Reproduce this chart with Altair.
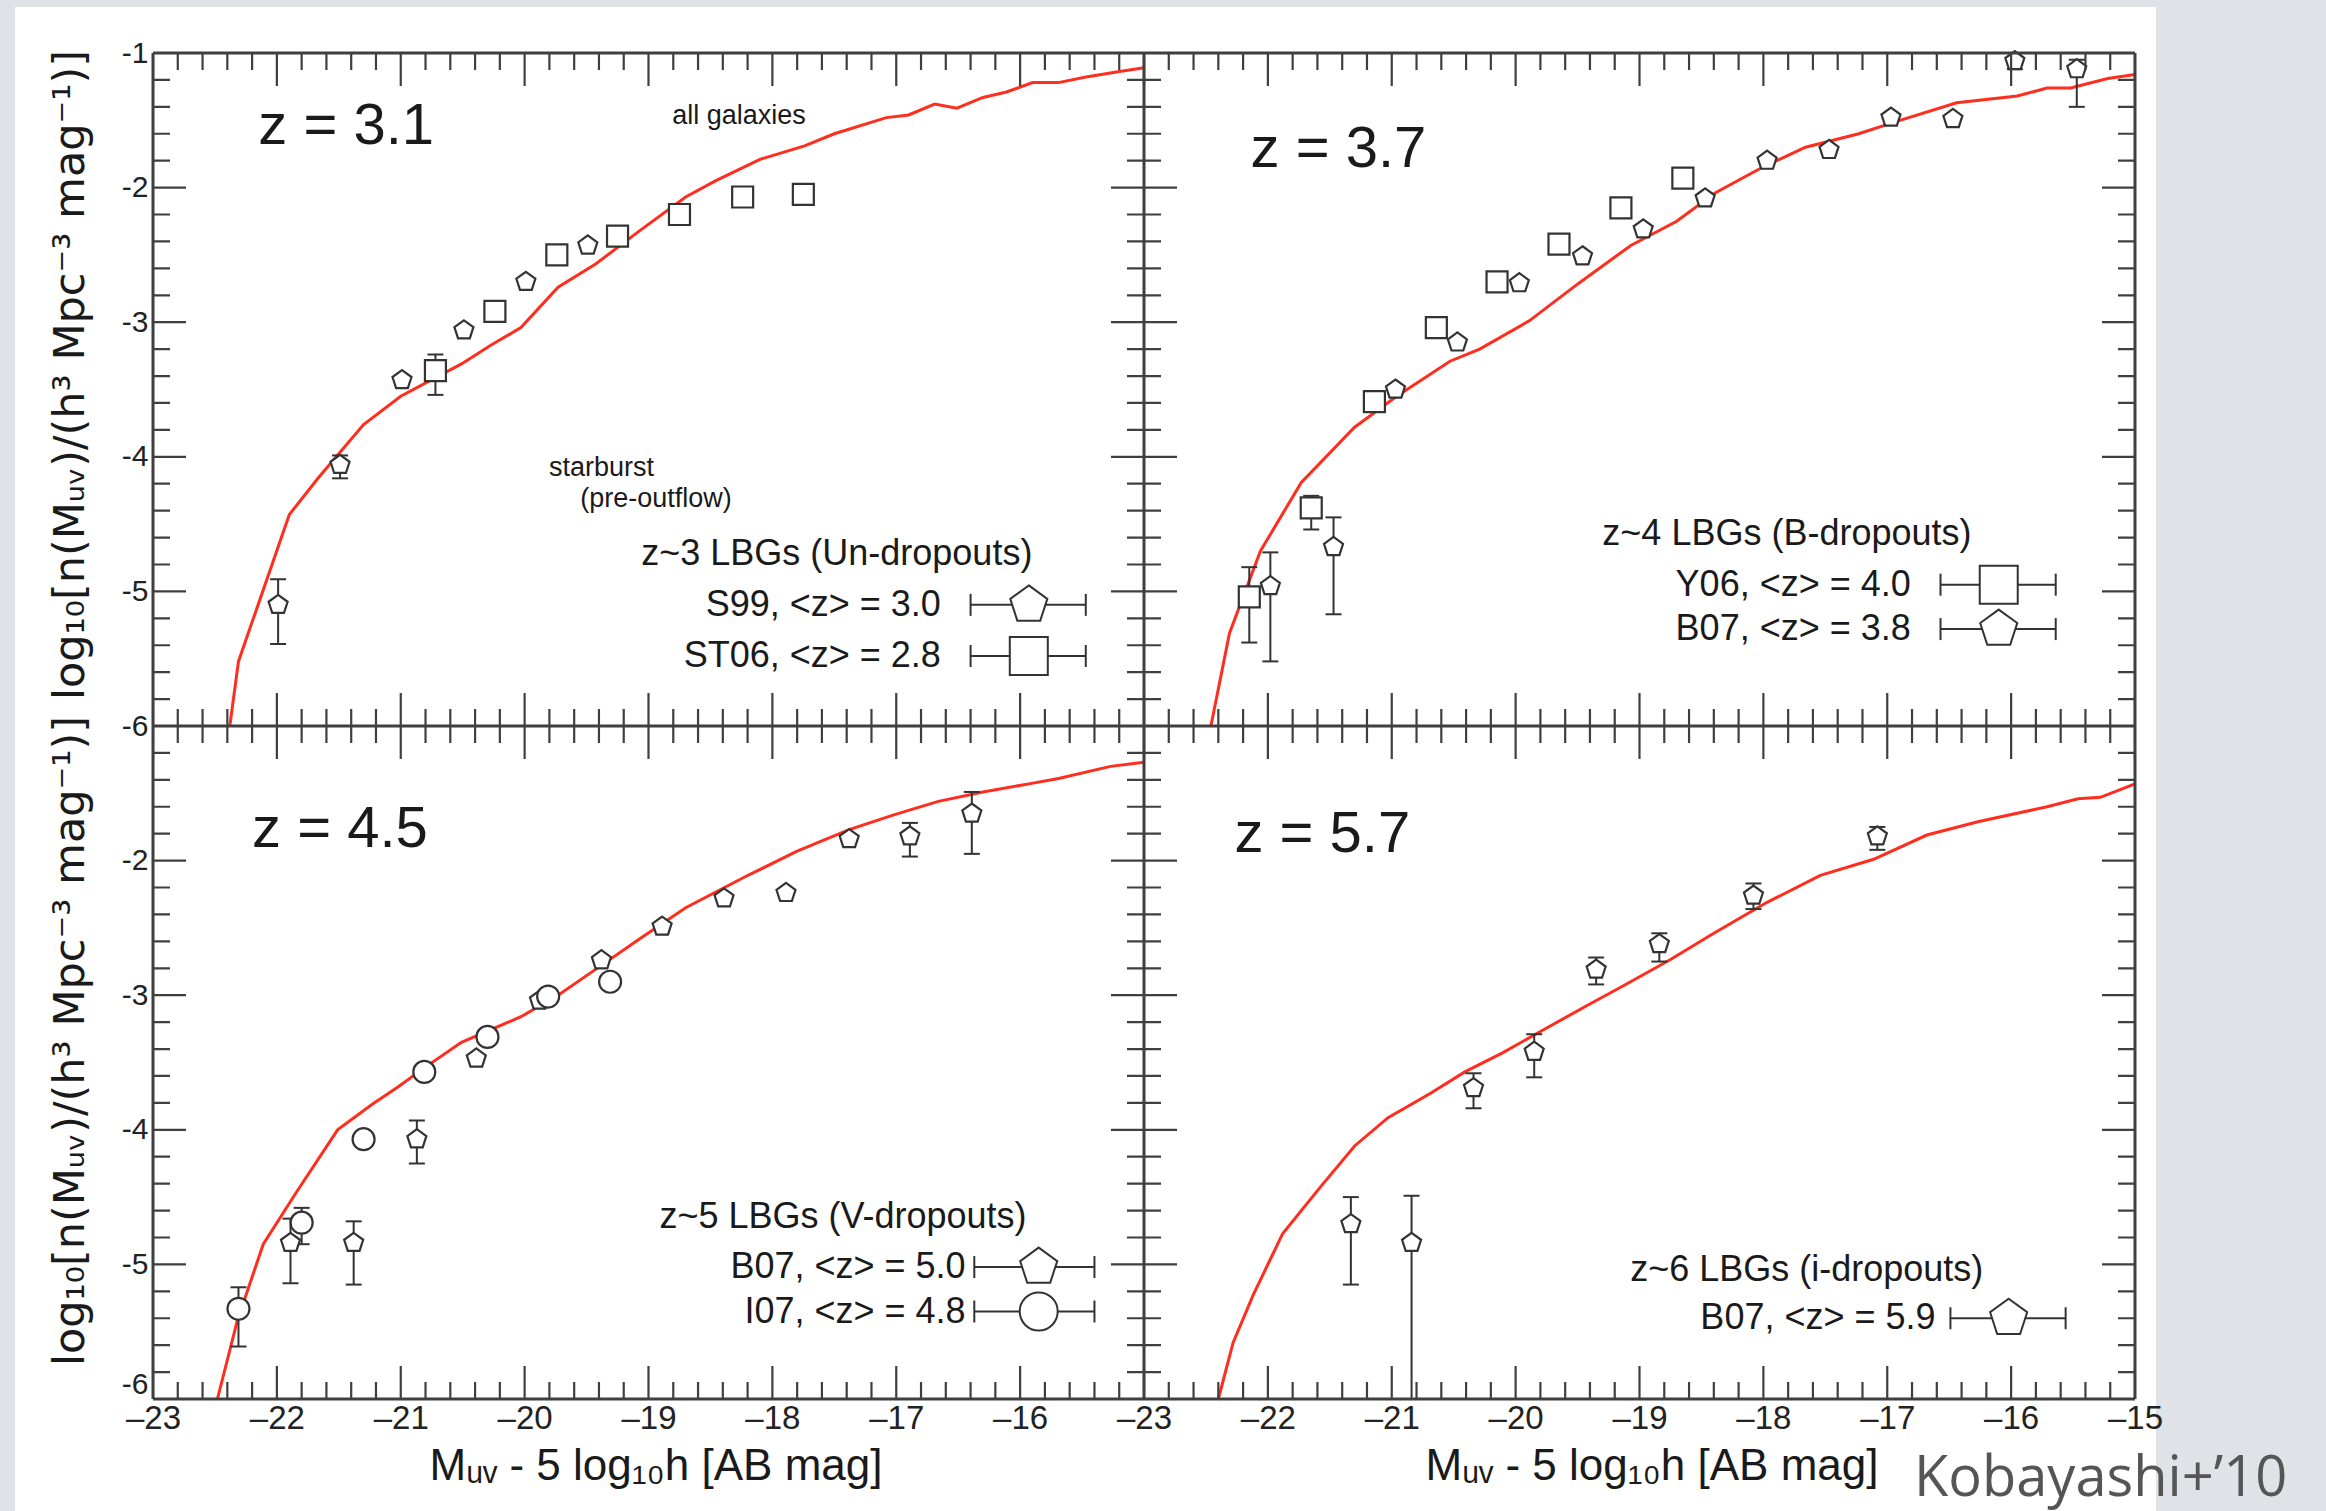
import altair as alt
import numpy as np
import pandas as pd

# ---------------- values ----------------
# z = 3.1 (top left)
mod31_mag = [-22.38, -22.31, -21.90, -21.66, -21.30, -21.00, -20.51, -20.27, -20.03,
             -19.73, -19.43, -19.07, -18.70, -18.46, -18.10, -17.74, -17.50, -17.08,
             -16.90, -16.69, -16.51, -16.30, -16.11, -15.90, -15.69, -15.48, -15.21, -15.00]
mod31_logn = [-6.00, -5.52, -4.43, -4.15, -3.76, -3.55, -3.31, -3.17, -3.04,
              -2.74, -2.57, -2.32, -2.07, -1.95, -1.79, -1.69, -1.60, -1.48,
              -1.46, -1.38, -1.41, -1.33, -1.29, -1.22, -1.22, -1.18, -1.14, -1.11]
s99_mag = [-21.99, -21.49, -20.99, -20.49, -19.99, -19.49]
s99_logn = [-5.10, -4.06, -3.43, -3.06, -2.70, -2.43]
s99_lo = [-5.39, -4.16, None, None, None, None]
s99_hi = [-4.91, -3.99, None, None, None, None]
st06_mag = [-20.72, -20.24, -19.74, -19.25, -18.75, -18.24, -17.75]
st06_logn = [-3.36, -2.92, -2.50, -2.36, -2.20, -2.07, -2.05]
st06_lo = [-3.54, None, None, None, None, None, None]
st06_hi = [-3.24, None, None, None, None, None, None]

# z = 3.7 (top right)
mod37_mag = [-22.46, -22.31, -22.06, -21.73, -21.30, -20.96, -20.53, -20.29, -19.89,
             -19.49, -19.07, -18.70, -18.39, -18.03, -17.66, -17.23, -16.93, -16.44,
             -15.95, -15.71, -15.52, -15.22, -15.00]
mod37_logn = [-6.00, -5.31, -4.70, -4.19, -3.78, -3.55, -3.29, -3.20, -2.99,
              -2.71, -2.43, -2.25, -2.04, -1.86, -1.70, -1.60, -1.51, -1.37,
              -1.32, -1.26, -1.26, -1.19, -1.16]
y06_mag = [-22.15, -21.65, -21.14, -20.64, -20.15, -19.65, -19.15, -18.65]
y06_logn = [-5.04, -4.38, -3.59, -3.04, -2.70, -2.42, -2.15, -1.93]
y06_lo = [-5.38, -4.54, None, None, None, None, None, None]
y06_hi = [-4.82, -4.29, None, None, None, None, None, None]
b07a_mag = [-21.98, -21.47, -20.97, -20.47, -19.97, -19.46, -18.97, -18.47, -17.97,
            -17.47, -16.97, -16.47, -15.97, -15.47]
b07a_logn = [-4.96, -4.67, -3.50, -3.15, -2.71, -2.51, -2.31, -2.08, -1.80,
             -1.72, -1.48, -1.49, -1.06, -1.12]
b07a_lo = [-5.52, -5.17, None, None, None, None, None, None, None, None, None, None, -1.12, -1.40]
b07a_hi = [-4.71, -4.45, None, None, None, None, None, None, None, None, None, None, -1.00, -1.05]

# z = 4.5 (bottom left)
mod45_mag = [-22.48, -22.32, -22.11, -21.84, -21.51, -21.23, -21.02, -20.81, -20.51,
             -20.03, -19.73, -19.43, -19.07, -18.70, -18.22, -17.80, -17.38, -17.02,
             -16.66, -16.30, -15.93, -15.69, -15.27, -15.00]
mod45_logn = [-6.00, -5.42, -4.85, -4.46, -4.00, -3.81, -3.68, -3.54, -3.35,
              -3.16, -3.00, -2.81, -2.58, -2.35, -2.12, -1.93, -1.77, -1.66,
              -1.56, -1.49, -1.43, -1.39, -1.30, -1.27]
b07b_mag = [-21.89, -21.38, -20.87, -20.39, -19.88, -19.38, -18.89, -18.39, -17.89,
            -17.38, -16.89, -16.39]
b07b_logn = [-4.84, -4.84, -4.07, -3.47, -3.04, -2.74, -2.49, -2.28, -2.24,
             -1.84, -1.82, -1.65]
b07b_lo = [-5.14, -5.15, -4.25, None, None, None, None, None, None, None, -1.97, -1.95]
b07b_hi = [-4.66, -4.68, -3.93, None, None, None, None, None, None, None, -1.72, -1.49]
i07_mag = [-22.31, -21.80, -21.30, -20.81, -20.30, -19.81, -19.31]
i07_logn = [-5.33, -4.69, -4.07, -3.57, -3.31, -3.01, -2.90]
i07_lo = [-5.61, -4.85, None, None, None, None, None]
i07_hi = [-5.17, -4.58, None, None, None, None, None]

# z = 5.7 (bottom right)
mod57_mag = [-22.40, -22.28, -22.12, -21.88, -21.58, -21.30, -21.03, -20.69, -20.41,
             -20.11, -19.80, -19.43, -19.13, -18.76, -18.40, -17.97, -17.54, -17.11,
             -16.68, -16.26, -15.71, -15.46, -15.28, -15.00]
mod57_logn = [-6.00, -5.58, -5.23, -4.77, -4.43, -4.12, -3.91, -3.73, -3.57,
              -3.43, -3.27, -3.08, -2.93, -2.74, -2.54, -2.31, -2.11, -1.99,
              -1.81, -1.71, -1.60, -1.54, -1.53, -1.43]
b07c_mag = [-21.33, -20.84, -20.34, -19.85, -19.35, -18.84, -18.08, -17.08]
b07c_logn = [-4.70, -4.84, -3.69, -3.42, -2.81, -2.62, -2.26, -1.82]
b07c_lo = [-5.15, -6.00, -3.84, -3.61, -2.92, -2.75, -2.36, -1.92]
b07c_hi = [-4.50, -4.49, -3.58, -3.29, -2.72, -2.54, -2.17, -1.75]

# texts
panel_titles = ["z = 3.1", "z = 3.7", "z = 4.5", "z = 5.7"]
legend_headers = ["z~3 LBGs (Un-dropouts)", "z~4 LBGs (B-dropouts)",
                  "z~5 LBGs (V-dropouts)", "z~6 LBGs (i-dropouts)"]
legend_entries = [["S99, <z> = 3.0", "ST06, <z> = 2.8"],
                  ["Y06, <z> = 4.0", "B07, <z> = 3.8"],
                  ["B07, <z> = 5.0", "I07, <z> = 4.8"],
                  ["B07, <z> = 5.9"]]
legend_shapes = [["pent", "square"], ["square", "pent"], ["pent", "circle"], ["pent"]]
notes = ["all galaxies", "starburst", "(pre-outflow)"]
y_title = "log\u2081\u2080[n(M\u1d64\u1d65)/(h\u00b3 Mpc\u207b\u00b3 mag\u207b\u00b9)]"
x_title = "M\u1d64\u1d65 - 5 log\u2081\u2080h [AB mag]"
credit = "Kobayashi+\u201910"

# ---------------- annotation placement (data coordinates of each panel) ----------------
panels = [(0, 0), (1, 0), (0, 1), (1, 1)]
title_pos = [(-22.15, -1.55), (-22.14, -1.72), (-22.20, -1.77), (-22.27, -1.81)]
header_pos = [(-17.48, -4.72), (-17.81, -4.57), (-17.43, -4.65), (-17.65, -5.04)]
entry_x = [-16.64, -16.81, -16.44, -16.61]
entry_y = [[-5.10, -5.48], [-4.95, -5.28], [-5.02, -5.35], [-5.40]]
sym_x = [(-16.40, -15.93, -15.47), (-16.57, -16.10, -15.64), (-16.37, -15.85, -15.40), (-16.49, -16.02, -15.56)]
note_pos = [(-18.27, -1.47), (-19.38, -4.08), (-18.94, -4.31)]

# ---------------- tables ----------------
model_sets = [(0, 0, mod31_mag, mod31_logn), (1, 0, mod37_mag, mod37_logn),
              (0, 1, mod45_mag, mod45_logn), (1, 1, mod57_mag, mod57_logn)]
model_rows = []
for k, (c, r, ms, ls) in enumerate(model_sets):
    for i, (m, l) in enumerate(zip(ms, ls)):
        model_rows.append(dict(panel=k, col=c, row=r, i=i, mag=m, logn=l))
model_df = pd.DataFrame(model_rows)

obs_sets = [(0, 0, "pent", s99_mag, s99_logn, s99_lo, s99_hi),
            (0, 0, "square", st06_mag, st06_logn, st06_lo, st06_hi),
            (1, 0, "square", y06_mag, y06_logn, y06_lo, y06_hi),
            (1, 0, "pent", b07a_mag, b07a_logn, b07a_lo, b07a_hi),
            (0, 1, "pent", b07b_mag, b07b_logn, b07b_lo, b07b_hi),
            (0, 1, "circle", i07_mag, i07_logn, i07_lo, i07_hi),
            (1, 1, "pent", b07c_mag, b07c_logn, b07c_lo, b07c_hi)]
obs_rows = []
for c, r, shp, ms, ls, los, his in obs_sets:
    for m, l, lo, hi in zip(ms, ls, los, his):
        obs_rows.append(dict(col=c, row=r, shape=shp, mag=m, logn=l,
                             lo=np.nan if lo is None else lo, hi=np.nan if hi is None else hi))
obs_df = pd.DataFrame(obs_rows)

leg_rows, entry_rows = [], []
for k, (c, r) in enumerate(panels):
    for j, txt in enumerate(legend_entries[k]):
        xl, xc, xr = sym_x[k]
        leg_rows.append(dict(col=c, row=r, xl=xl, xc=xc, xr=xr, logn=entry_y[k][j],
                             shape=legend_shapes[k][j]))
        entry_rows.append(dict(col=c, row=r, mag=entry_x[k], logn=entry_y[k][j], text=txt))
leg_df = pd.DataFrame(leg_rows)
entry_df = pd.DataFrame(entry_rows)
title_df = pd.DataFrame([dict(col=c, row=r, mag=p[0], logn=p[1], text=t)
                         for (c, r), p, t in zip(panels, title_pos, panel_titles)])
header_df = pd.DataFrame([dict(col=c, row=r, mag=p[0], logn=p[1], text=t)
                          for (c, r), p, t in zip(panels, header_pos, legend_headers)])
note_df = pd.DataFrame([dict(col=0, row=0, mag=p[0], logn=p[1], text=t)
                        for p, t in zip(note_pos, notes)])

# tick marks on every panel edge (stacked coordinates: right column +8 mag, bottom row -5 dex)
xv = np.round(np.arange(-23, -6.99, 0.2), 1)
yv = np.round(np.arange(-11, -0.99, 0.2), 1)
xt = pd.DataFrame([dict(v=v, e=e, major=bool(abs(v - round(v)) < 1e-6)) for v in xv for e in (-1, -6, -11)])
yt = pd.DataFrame([dict(v=v, e=e, major=bool(abs(v - round(v)) < 1e-6)) for v in yv for e in (-23, -15, -7)])
frame_df = pd.DataFrame([dict(xa=v, xb=v, ya=-11, yb=-1) for v in (-23, -15, -7)] +
                        [dict(xa=-23, xb=-7, ya=v, yb=v) for v in (-1, -6, -11)])
one = pd.DataFrame({"k": [0]})

# ---------------- styling ----------------
RED = "#ff2d1e"
INK = "#333333"
FRAME = "#3f3f3f"
FONT = "'Liberation Sans Narrow', 'Arial Narrow', 'Liberation Sans', sans-serif"
PENT = "M0,-1L0.951,-0.309L0.588,0.809L-0.588,0.809L-0.951,-0.309Z"
SHAPES = {"pent": (PENT, 400, 1520), "square": ("square", 441, 1444), "circle": ("circle", 484, 1444)}

XS = alt.Scale(domain=[-23, -7], nice=False, zero=False)
YS = alt.Scale(domain=[-11, -1], nice=False, zero=False)
XAXIS = alt.Axis(values=list(range(-23, -6)),
                 labelExpr="'\u2013' + (datum.value < -15 ? -datum.value : 8 - datum.value)",
                 ticks=False, domain=False, grid=False, title=None, labelFont=FONT,
                 labelFontSize=33, labelColor="#222222", labelPadding=3,
                 labelOverlap=False, labelFlush=False, zindex=2)
YAXIS = alt.Axis(values=list(range(-11, 0)),
                 labelExpr="'-' + (datum.value >= -6 ? -datum.value : -datum.value - 5)",
                 labelBaseline={"condition": {"test": "datum.value <= -11", "value": "bottom"},
                                "value": "middle"},
                 ticks=False, domain=False, grid=False, title=None, labelFont=FONT,
                 labelFontSize=30, labelColor="#222222", labelPadding=5,
                 labelOverlap=False, labelFlush=False, zindex=2)


def X(f):
    return alt.X(f + ":Q", scale=XS, axis=XAXIS)


def Y(f):
    return alt.Y(f + ":Q", scale=YS, axis=YAXIS)


def stacked(ch, *fields):
    calc = {}
    for f in fields:
        if f in ("mag", "xl", "xc", "xr"):
            calc[f + "_s"] = f"datum.{f} + 8 * datum.col"
        else:
            calc[f + "_s"] = f"datum.{f} - 5 * datum.row"
    return ch.transform_calculate(**calc)


layers = []
# white card behind the figure
layers.append(alt.Chart(one).mark_rect(color="white").encode(
    x=alt.value(-138), x2=alt.value(2003), y=alt.value(-46), y2=alt.value(1458)))

# model curves
layers.append(stacked(alt.Chart(model_df), "mag", "logn").mark_line(
    color=RED, strokeWidth=3).encode(x=X("mag_s"), y=Y("logn_s"),
                                     detail="panel:N", order="i:Q"))

# error bars
eb = stacked(alt.Chart(obs_df).transform_filter("isValid(datum.lo) && isFinite(datum.lo)"),
             "mag", "lo", "hi")
layers.append(eb.mark_rule(color=INK, strokeWidth=2).encode(
    x=X("mag_s"), y=Y("lo_s"), y2="hi_s:Q"))
for f in ("lo_s", "hi_s"):
    layers.append(eb.mark_tick(orient="horizontal", size=16, thickness=2, color=INK,
                               opacity=1).encode(x=X("mag_s"), y=Y(f)))

# data points
for key, (shp, sz, _) in SHAPES.items():
    layers.append(stacked(alt.Chart(obs_df).transform_filter(f"datum.shape == '{key}'"),
                          "mag", "logn").mark_point(
        shape=shp, size=sz, filled=True, fill="white", stroke=INK, strokeWidth=2.2,
        opacity=1).encode(x=X("mag_s"), y=Y("logn_s")))

# legend symbols
lg = stacked(alt.Chart(leg_df), "xl", "xc", "xr", "logn")
layers.append(lg.mark_rule(color=INK, strokeWidth=2).encode(
    x=X("xl_s"), x2="xr_s:Q", y=Y("logn_s")))
for f in ("xl_s", "xr_s"):
    layers.append(lg.mark_tick(orient="vertical", size=22, thickness=2, color=INK,
                               opacity=1).encode(x=X(f), y=Y("logn_s")))
for key, (shp, _, sz) in SHAPES.items():
    layers.append(lg.transform_filter(f"datum.shape == '{key}'").mark_point(
        shape=shp, size=sz, filled=True, fill="white", stroke=INK, strokeWidth=2,
        opacity=1).encode(x=X("xc_s"), y=Y("logn_s")))

# inward ticks on all edges
for major, ln in ((True, 66), (False, 34)):
    layers.append(alt.Chart(xt[xt.major == major]).mark_tick(
        orient="vertical", size=ln, thickness=2.2, color=FRAME, opacity=1, clip=True).encode(
        x=X("v"), y=Y("e")))
    layers.append(alt.Chart(yt[yt.major == major]).mark_tick(
        orient="horizontal", size=ln, thickness=2.2, color=FRAME, opacity=1, clip=True).encode(
        x=X("e"), y=Y("v")))

# panel frames
layers.append(alt.Chart(frame_df).mark_rule(color=FRAME, strokeWidth=3).encode(
    x=X("xa"), x2="xb:Q", y=Y("ya"), y2="yb:Q"))

# texts inside panels
layers.append(stacked(alt.Chart(title_df), "mag", "logn").mark_text(
    align="left", baseline="middle", font=FONT, fontSize=58, color="#1a1a1a").encode(
    x=X("mag_s"), y=Y("logn_s"), text="text:N"))
layers.append(stacked(alt.Chart(header_df), "mag", "logn").mark_text(
    align="center", baseline="middle", font=FONT, fontSize=36, color="#1a1a1a").encode(
    x=X("mag_s"), y=Y("logn_s"), text="text:N"))
layers.append(stacked(alt.Chart(entry_df), "mag", "logn").mark_text(
    align="right", baseline="middle", font=FONT, fontSize=36, color="#1a1a1a").encode(
    x=X("mag_s"), y=Y("logn_s"), text="text:N"))
layers.append(stacked(alt.Chart(note_df), "mag", "logn").mark_text(
    align="center", baseline="middle", font=FONT, fontSize=27, color="#1a1a1a").encode(
    x=X("mag_s"), y=Y("logn_s"), text="text:N"))

# axis titles and credit
for yc in (322, 988):
    layers.append(alt.Chart(one).mark_text(
        text=y_title, angle=270, align="center", baseline="middle",
        font="DejaVu Sans", fontSize=43, color="#1a1a1a").encode(
        x=alt.value(-82), y=alt.value(yc)))
for xc in (503, 1499):
    layers.append(alt.Chart(one).mark_text(
        text=x_title, align="center", baseline="middle",
        font=FONT, fontSize=44, color="#1a1a1a").encode(
        x=alt.value(xc), y=alt.value(1414)))
layers.append(alt.Chart(one).mark_text(
    text=credit, align="left", baseline="alphabetic",
    font="'Open Sans', 'Noto Sans', sans-serif", fontSize=56, color="#555555").encode(
    x=alt.value(1761), y=alt.value(1443)))

chart = alt.layer(*layers).properties(
    width=1982, height=1346,
    autosize=alt.AutoSizeParams(type="none"),
    padding={"left": 153, "top": 53, "right": 191, "bottom": 112},
    background="#dfe2e6",
).configure_view(stroke="transparent")

chart.save("out.html", embed_options={"renderer": "svg", "actions": False})
